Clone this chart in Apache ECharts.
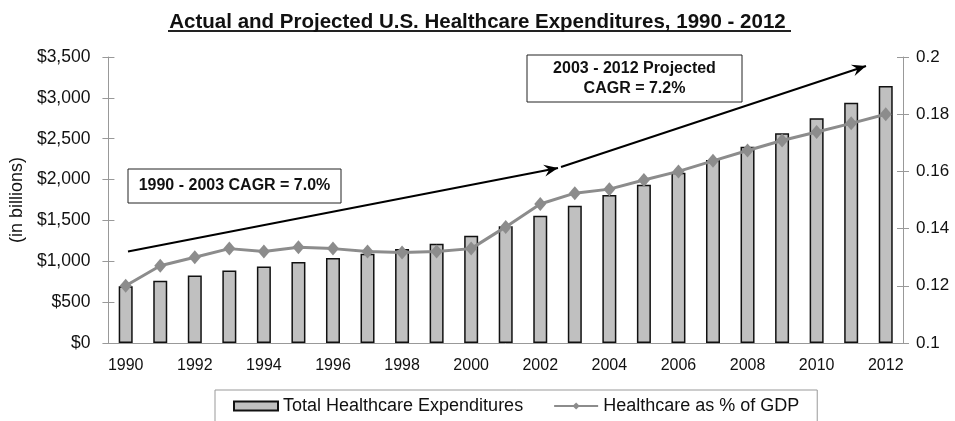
<!DOCTYPE html>
<html>
<head>
<meta charset="utf-8">
<script src="https://cdn.jsdelivr.net/npm/echarts@6/dist/echarts.min.js"></script>
<style>
  html, body { margin: 0; padding: 0; background: #fff; }
  #main { width: 955px; height: 421px; }
</style>
</head>
<body>
<div id="main"></div>
<script>
// years on the x axis
const years = ['1990', '1991', '1992', '1993', '1994', '1995', '1996', '1997', '1998', '1999', '2000', '2001',
  '2002', '2003', '2004', '2005', '2006', '2007', '2008', '2009', '2010', '2011', '2012'];
// total expenditures, $ billions
const totalSpend = [696, 762, 826, 888, 935, 990, 1039, 1093, 1150, 1215, 1312, 1430,
  1556, 1680, 1810, 1937, 2083, 2240, 2403, 2566, 2749, 2939, 3146];
// healthcare as share of GDP
const gdpShare = [0.120, 0.127, 0.130, 0.133, 0.132, 0.1335, 0.133, 0.132, 0.1316, 0.132, 0.133, 0.1406,
  0.1486, 0.1524, 0.1538, 0.157, 0.160, 0.1637, 0.1673, 0.1708, 0.1738, 0.1768, 0.180];
const leftTicks = [0, 3500, 500];
const rightTicks = [0.1, 0.2, 0.02];

const FONT = '"Liberation Sans", Arial, sans-serif';
const chart = echarts.init(document.getElementById('main'));

// arrow head for a straight annotation line
function arrowHead(x1, y1, x2, y2) {
  const len = Math.hypot(x2 - x1, y2 - y1);
  const ux = (x2 - x1) / len, uy = (y2 - y1) / len;
  const nx = -uy, ny = ux;
  return {
    type: 'polygon',
    shape: { points: [[x2, y2], [x2 - 14 * ux + 6 * nx, y2 - 14 * uy + 6 * ny], [x2 - 9 * ux, y2 - 9 * uy], [x2 - 14 * ux - 6 * nx, y2 - 14 * uy - 6 * ny]] },
    style: { fill: '#000' },
    z: 20
  };
}
function arrow(x1, y1, x2, y2) {
  return [
    { type: 'line', shape: { x1: x1, y1: y1, x2: x2, y2: y2 }, style: { stroke: '#000', lineWidth: 2 }, z: 20 },
    arrowHead(x1, y1, x2, y2)
  ];
}

const axisGray = '#999';

const option = {
  backgroundColor: '#fff',
  animation: false,
  title: {
    text: 'Actual and Projected U.S. Healthcare Expenditures, 1990 - 2012',
    left: 'center',
    top: 7,
    textStyle: { fontFamily: FONT, fontSize: 20.5, fontWeight: 'bold', color: '#111' }
  },
  grid: { left: 108, right: 52, top: 57, bottom: 78 },
  legend: {
    left: 215,
    top: 390,
    itemGap: 30,
    itemWidth: 44,
    itemHeight: 9,
    padding: [7, 18, 14, 18],
    borderColor: axisGray,
    borderWidth: 1,
    textStyle: { fontFamily: FONT, fontSize: 18, color: '#111' },
    data: [
      { name: 'Total Healthcare Expenditures', icon: 'rect' },
      { name: 'Healthcare as % of GDP' }
    ]
  },
  xAxis: [
    {
      type: 'category',
      data: years,
      boundaryGap: true,
      axisLine: { lineStyle: { color: axisGray, width: 1 } },
      axisTick: { interval: 0, length: 5, lineStyle: { color: axisGray } },
      axisLabel: { interval: 1, fontFamily: FONT, fontSize: 16, color: '#111', margin: 15 }
    },
    {
      // inner half of the crossing ticks
      type: 'category',
      data: years,
      position: 'bottom',
      boundaryGap: true,
      axisLine: { show: false },
      axisTick: { interval: 0, inside: true, length: 4, lineStyle: { color: axisGray } },
      axisLabel: { show: false }
    }
  ],
  yAxis: [
    {
      type: 'value',
      min: leftTicks[0], max: leftTicks[1], interval: leftTicks[2],
      name: '(in billions)',
      nameLocation: 'middle',
      nameGap: 82,
      nameRotate: 90,
      nameTextStyle: { fontFamily: FONT, fontSize: 18, color: '#111' },
      axisLine: { show: true, lineStyle: { color: axisGray } },
      axisTick: { show: true, length: 6, lineStyle: { color: axisGray } },
      axisLabel: {
        fontFamily: FONT, fontSize: 17.5, color: '#111', margin: 18,
        formatter: v => '$' + v.toLocaleString('en-US')
      },
      splitLine: { show: false }
    },
    {
      type: 'value',
      min: rightTicks[0], max: rightTicks[1], interval: rightTicks[2],
      position: 'right',
      axisLine: { show: true, lineStyle: { color: axisGray } },
      axisTick: { show: true, length: 6, lineStyle: { color: axisGray } },
      axisLabel: {
        fontFamily: FONT, fontSize: 17, color: '#111', margin: 13,
        formatter: v => String(parseFloat(v.toFixed(2)))
      },
      splitLine: { show: false }
    },
    {
      // inner half of the crossing ticks on the left axis
      type: 'value',
      min: leftTicks[0], max: leftTicks[1], interval: leftTicks[2],
      position: 'left',
      axisLine: { show: false },
      axisTick: { show: true, inside: true, length: 6, lineStyle: { color: axisGray } },
      axisLabel: { show: false },
      splitLine: { show: false }
    },
    {
      type: 'value',
      min: rightTicks[0], max: rightTicks[1], interval: rightTicks[2],
      position: 'right',
      axisLine: { show: false },
      axisTick: { show: true, inside: true, length: 6, lineStyle: { color: axisGray } },
      axisLabel: { show: false },
      splitLine: { show: false }
    }
  ],
  series: [
    {
      name: 'Total Healthcare Expenditures',
      type: 'bar',
      yAxisIndex: 0,
      data: totalSpend,
      barWidth: 14,
      itemStyle: { color: '#c0c0c0', borderColor: '#111', borderWidth: 1.5 }
    },
    {
      name: 'Healthcare as % of GDP',
      type: 'line',
      yAxisIndex: 1,
      data: gdpShare,
      symbol: 'diamond',
      symbolSize: [12, 14],
      lineStyle: { color: '#8c8c8c', width: 3 },
      itemStyle: { color: '#8c8c8c' },
      z: 5
    }
  ],
  graphic: [
    // title underline
    { type: 'line', shape: { x1: 168, y1: 31, x2: 791, y2: 31 }, style: { stroke: '#222', lineWidth: 2 } },
    // CAGR boxes
    {
      type: 'rect', shape: { x: 128, y: 169, width: 213, height: 34 },
      style: { fill: '#fff', stroke: '#222', lineWidth: 1 }, z: 15
    },
    {
      type: 'text', x: 234.5, y: 186, z: 16,
      style: { text: '1990 - 2003 CAGR = 7.0%', font: 'bold 16px ' + FONT, fill: '#111', align: 'center', verticalAlign: 'middle' }
    },
    {
      type: 'rect', shape: { x: 527, y: 55, width: 215, height: 47 },
      style: { fill: '#fff', stroke: '#222', lineWidth: 1 }, z: 15
    },
    {
      type: 'text', x: 634.5, y: 79, z: 16,
      style: { text: '2003 - 2012 Projected\nCAGR = 7.2%', font: 'bold 16px ' + FONT, lineHeight: 20, fill: '#111', align: 'center', verticalAlign: 'middle' }
    }
  ].concat(arrow(128, 251.5, 558, 168), arrow(561, 167, 866, 66))
};

chart.setOption(option);
</script>
</body>
</html>
